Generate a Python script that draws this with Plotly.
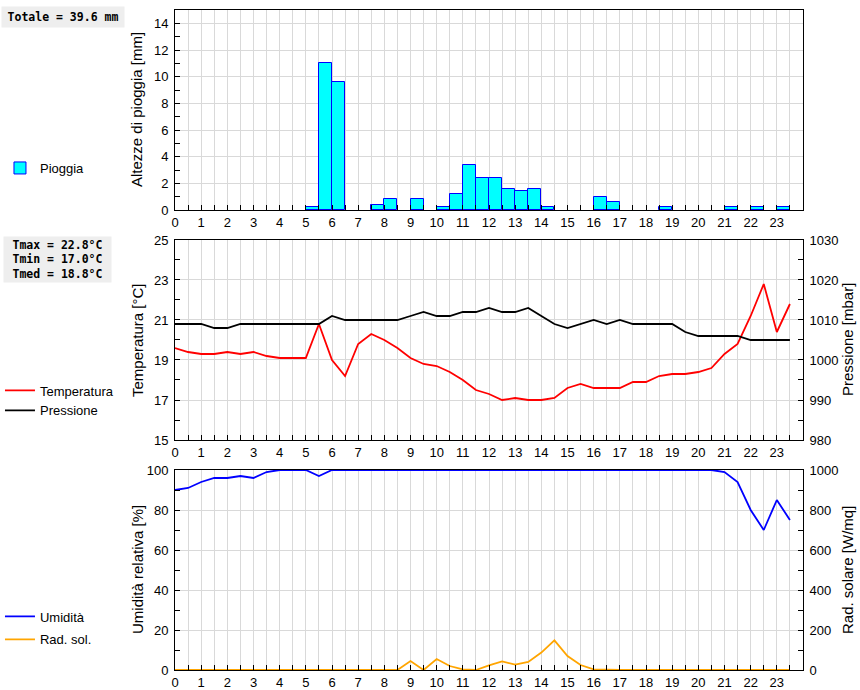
import plotly.graph_objects as go

# half-hour steps of the day
hours = [0.0, 0.5, 1.0, 1.5, 2.0, 2.5, 3.0, 3.5, 4.0, 4.5, 5.0, 5.5,
         6.0, 6.5, 7.0, 7.5, 8.0, 8.5, 9.0, 9.5, 10.0, 10.5, 11.0, 11.5,
         12.0, 12.5, 13.0, 13.5, 14.0, 14.5, 15.0, 15.5, 16.0, 16.5, 17.0, 17.5,
         18.0, 18.5, 19.0, 19.5, 20.0, 20.5, 21.0, 21.5, 22.0, 22.5, 23.0, 23.5]
hour_ticks = list(range(24))

# rain per half hour (start of bin, mm)
rain_start = [5.0, 5.5, 6.0, 7.5, 8.0, 9.0, 10.0, 10.5, 11.0, 11.5, 12.0,
              12.5, 13.0, 13.5, 14.0, 16.0, 16.5, 18.5, 21.0, 22.0, 23.0]
rain_mm = [0.2, 11.0, 9.6, 0.4, 0.8, 0.8, 0.2, 1.2, 3.4, 2.4, 2.4,
           1.6, 1.4, 1.6, 0.2, 1.0, 0.6, 0.2, 0.2, 0.2, 0.2]

temperature = [19.6, 19.4, 19.3, 19.3, 19.4, 19.3, 19.4, 19.2, 19.1, 19.1, 19.1, 20.8,
               19.0, 18.2, 19.8, 20.3, 20.0, 19.6, 19.1, 18.8, 18.7, 18.4, 18.0, 17.5,
               17.3, 17.0, 17.1, 17.0, 17.0, 17.1, 17.6, 17.8, 17.6, 17.6, 17.6, 17.9,
               17.9, 18.2, 18.3, 18.3, 18.4, 18.6, 19.3, 19.8, 21.2, 22.8, 20.4, 21.8]

pressure = [1009, 1009, 1009, 1008, 1008, 1009, 1009, 1009, 1009, 1009, 1009, 1009,
            1011, 1010, 1010, 1010, 1010, 1010, 1011, 1012, 1011, 1011, 1012, 1012,
            1013, 1012, 1012, 1013, 1011, 1009, 1008, 1009, 1010, 1009, 1010, 1009,
            1009, 1009, 1009, 1007, 1006, 1006, 1006, 1006, 1005, 1005, 1005, 1005]

humidity = [90, 91, 94, 96, 96, 97, 96, 99, 100, 100, 100, 97,
            100, 100, 100, 100, 100, 100, 100, 100, 100, 100, 100, 100,
            100, 100, 100, 100, 100, 100, 100, 100, 100, 100, 100, 100,
            100, 100, 100, 100, 100, 100, 99, 94, 80, 70, 85, 75]

radiation = [0, 0, 0, 0, 0, 0, 0, 0, 0, 0, 0, 0,
             0, 0, 0, 0, 0, 0, 45, 0, 55, 20, 3, 0,
             23, 43, 27, 40, 87, 148, 70, 25, 3, 0, 0, 0,
             0, 0, 0, 0, 0, 0, 0, 0, 0, 0, 0, 0]

FONT = "Liberation Sans, Arial, sans-serif"
GRID = "#d9d9d9"

fig = go.Figure()

fig.add_trace(go.Bar(
    x=rain_start, y=rain_mm, offset=0, width=0.5,
    marker=dict(color="#00ffff", line=dict(color="#0000ff", width=1)),
    name="Pioggia", legend="legend", xaxis="x", yaxis="y"))

fig.add_trace(go.Scatter(
    x=hours, y=temperature, mode="lines", line=dict(color="#ff0000", width=1.8),
    name="Temperatura", legend="legend2", xaxis="x2", yaxis="y2"))
fig.add_trace(go.Scatter(
    x=hours, y=pressure, mode="lines", line=dict(color="#000000", width=1.8),
    name="Pressione", legend="legend2", xaxis="x2", yaxis="y3"))

fig.add_trace(go.Scatter(
    x=hours, y=humidity, mode="lines", line=dict(color="#0000ff", width=1.8),
    name="Umidità", legend="legend3", legendgroup="hum", xaxis="x3", yaxis="y4"))
fig.add_trace(go.Scatter(
    x=hours, y=radiation, mode="lines", line=dict(color="#ffa500", width=1.8),
    name="Rad. sol.", legend="legend3", legendgroup="rad", xaxis="x3", yaxis="y5"))


def xaxis(anchor):
    return dict(
        domain=[0, 1], anchor=anchor, range=[0, 24],
        tickmode="array", tickvals=hour_ticks,
        ticks="inside", ticklen=5, tickcolor="black",
        showgrid=True, gridcolor=GRID,
        minor=dict(dtick=0.5, tick0=0, showgrid=True, gridcolor=GRID,
                   ticks="inside", ticklen=5, tickcolor="black"),
        showline=True, linecolor="black", linewidth=1, mirror=True,
        zeroline=False, fixedrange=True)


def yaxis(domain, rng, dtick, minor, anchor, side="left", overlay=None, grid=True):
    ax = dict(
        domain=domain, range=rng, dtick=dtick, tick0=rng[0], anchor=anchor, side=side,
        ticks="inside", ticklen=5, tickcolor="black",
        showgrid=grid, gridcolor=GRID,
        minor=dict(dtick=minor, tick0=rng[0], ticks="inside", ticklen=5,
                   tickcolor="black", showgrid=False),
        showline=True, linecolor="black", linewidth=1,
        zeroline=False, fixedrange=True, ticklabelstandoff=3)
    if overlay:
        ax["overlaying"] = overlay
    return ax


top = [0.69697, 1.0]
mid = [0.34848, 0.65152]
bot = [0.0, 0.30303]

fig.update_layout(
    width=860, height=690,
    margin=dict(l=175, r=57, t=10, b=20, autoexpand=False),
    paper_bgcolor="white", plot_bgcolor="white",
    font=dict(family=FONT, size=13, color="black"),
    bargap=0,
    xaxis=xaxis("y"),
    xaxis2=xaxis("y2"),
    xaxis3=xaxis("y4"),
    yaxis=dict(yaxis(top, [0, 15], 2, 1, "x"), mirror=True),
    yaxis2=yaxis(mid, [15, 25], 2, 1, "x2"),
    yaxis3=yaxis(mid, [980, 1030], 10, 5, "x2", side="right", overlay="y2", grid=False),
    yaxis4=yaxis(bot, [0, 100], 20, 10, "x3"),
    yaxis5=yaxis(bot, [0, 1000], 200, 100, "x3", side="right", overlay="y4", grid=False),
    legend=dict(x=-0.2787, y=0.7606, xanchor="left", yanchor="middle",
                font=dict(size=13), bgcolor="rgba(0,0,0,0)"),
    legend2=dict(x=-0.2787, y=0.4083, xanchor="left", yanchor="middle",
                 font=dict(size=13), bgcolor="rgba(0,0,0,0)"),
    legend3=dict(x=-0.2787, y=0.0636, xanchor="left", yanchor="middle",
                 font=dict(size=13), bgcolor="rgba(0,0,0,0)", tracegroupgap=3),
    showlegend=True,
)

titles = [
    ("Altezze di pioggia [mm]", -0.0605, 0.8485),
    ("Temperatura [°C]", -0.0605, 0.5),
    ("Pressione [mbar]", 1.0701, 0.5),
    ("Umidità relativa [%]", -0.0605, 0.1515),
    ("Rad. solare [W/mq]", 1.0701, 0.1515),
]
for text, x, y in titles:
    fig.add_annotation(text=text, x=x, y=y, xref="paper", yref="paper",
                       xanchor="center", yanchor="middle", textangle=-90,
                       showarrow=False, font=dict(size=15))

box_font = dict(family="DejaVu Sans Mono, monospace", size=11.5, color="black")
fig.add_annotation(text="<b>Totale = 39.6 mm</b>", x=-0.2771, y=0.9894,
                   xref="paper", yref="paper", xanchor="left", yanchor="middle",
                   width=118, height=16, borderpad=2, bgcolor="#eeeeee",
                   showarrow=False, font=box_font)
fig.add_annotation(text="<b>Tmax = 22.8°C<br>Tmin = 17.0°C<br>Tmed = 18.8°C</b>",
                   x=-0.2739, y=0.622, xref="paper", yref="paper",
                   xanchor="left", yanchor="middle", width=103, height=41,
                   borderpad=2, bgcolor="#eeeeee", showarrow=False, font=box_font)

# page body has a default margin; drop it so the figure sits at the window corner
fig.write_html("out.html", config={"displayModeBar": False},
               post_script="document.body.style.margin = '0';")
